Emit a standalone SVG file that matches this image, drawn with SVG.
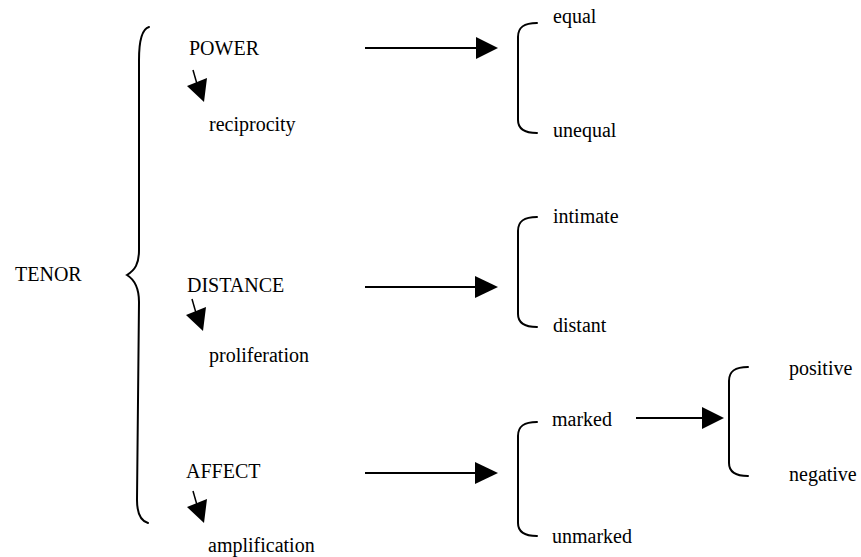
<svg xmlns="http://www.w3.org/2000/svg" width="861" height="557" viewBox="0 0 861 557">
<style>
text{font-family:"Liberation Serif","Times New Roman",serif;font-size:20px;fill:#000}
.br{fill:none;stroke:#000;stroke-width:2;stroke-linecap:round}
.ln{stroke:#000;stroke-width:2}
.hd{fill:#000}
.sl{stroke:#000;stroke-width:1.5}
</style>
<defs>
<g id="small">
<line class="sl" x1="0" y1="0" x2="4" y2="14"/>
<polygon class="hd" points="-6,16 14,8 11,32"/>
</g>
</defs>
<rect width="861" height="557" fill="#fff"/>
<g id="tenor"><text x="15" y="281">TENOR</text></g>
<g id="brace-main"><path class="br" d="M149,27 C142,29 139,40 139,60 L139,250 C139,264 135,270 127,275 C135,280 139,288 139,302 L137,500 C137,514 141,521 148,523"/></g>
<g id="power"><text x="189" y="55">POWER</text></g>
<g id="reciprocity"><text x="209" y="131">reciprocity</text></g>
<g id="distance"><text x="187" y="292">DISTANCE</text></g>
<g id="proliferation"><text x="209" y="362">proliferation</text></g>
<g id="affect"><text x="186" y="478">AFFECT</text></g>
<g id="amplification"><text x="208" y="552">amplification</text></g>
<g id="bracket-power"><path class="br" d="M537,23 C524,23 518,27 518,37 L518,120 C518,129 524,133 537,133"/></g>
<g id="equal"><text x="553" y="23">equal</text></g>
<g id="unequal"><text x="553" y="137">unequal</text></g>
<g id="bracket-distance"><path class="br" d="M537,217 C524,217 518,221 518,231 L518,314 C518,323 524,327 537,327"/></g>
<g id="intimate"><text x="553" y="223">intimate</text></g>
<g id="distant"><text x="553" y="332">distant</text></g>
<g id="bracket-affect"><path class="br" d="M537,422 C524,422 518,426 518,436 L518,523 C518,532 524,536 537,536"/></g>
<g id="marked"><text x="552" y="426">marked</text></g>
<g id="unmarked"><text x="552" y="543">unmarked</text></g>
<g id="bracket-marked"><path class="br" d="M748,367 C735,367 729,371 729,381 L729,463 C729,472 735,476 748,476"/></g>
<g id="positive"><text x="789" y="375">positive</text></g>
<g id="negative"><text x="789" y="481">negative</text></g>
<g id="connectors">
<use href="#small" x="193" y="70"/>
<use href="#small" x="192" y="299"/>
<use href="#small" x="193" y="491"/>
<line class="ln" x1="365" y1="48" x2="478" y2="48"/>
<polygon class="hd" points="476,37 498,48 476,59"/>
<line class="ln" x1="365" y1="287" x2="478" y2="287"/>
<polygon class="hd" points="475,276 498,287 475,298"/>
<line class="ln" x1="365" y1="473" x2="478" y2="473"/>
<polygon class="hd" points="475,462 498,473 475,484"/>
<line class="ln" x1="636" y1="418" x2="704" y2="418"/>
<polygon class="hd" points="702,407 724,418 702,429"/>
</g>
</svg>
